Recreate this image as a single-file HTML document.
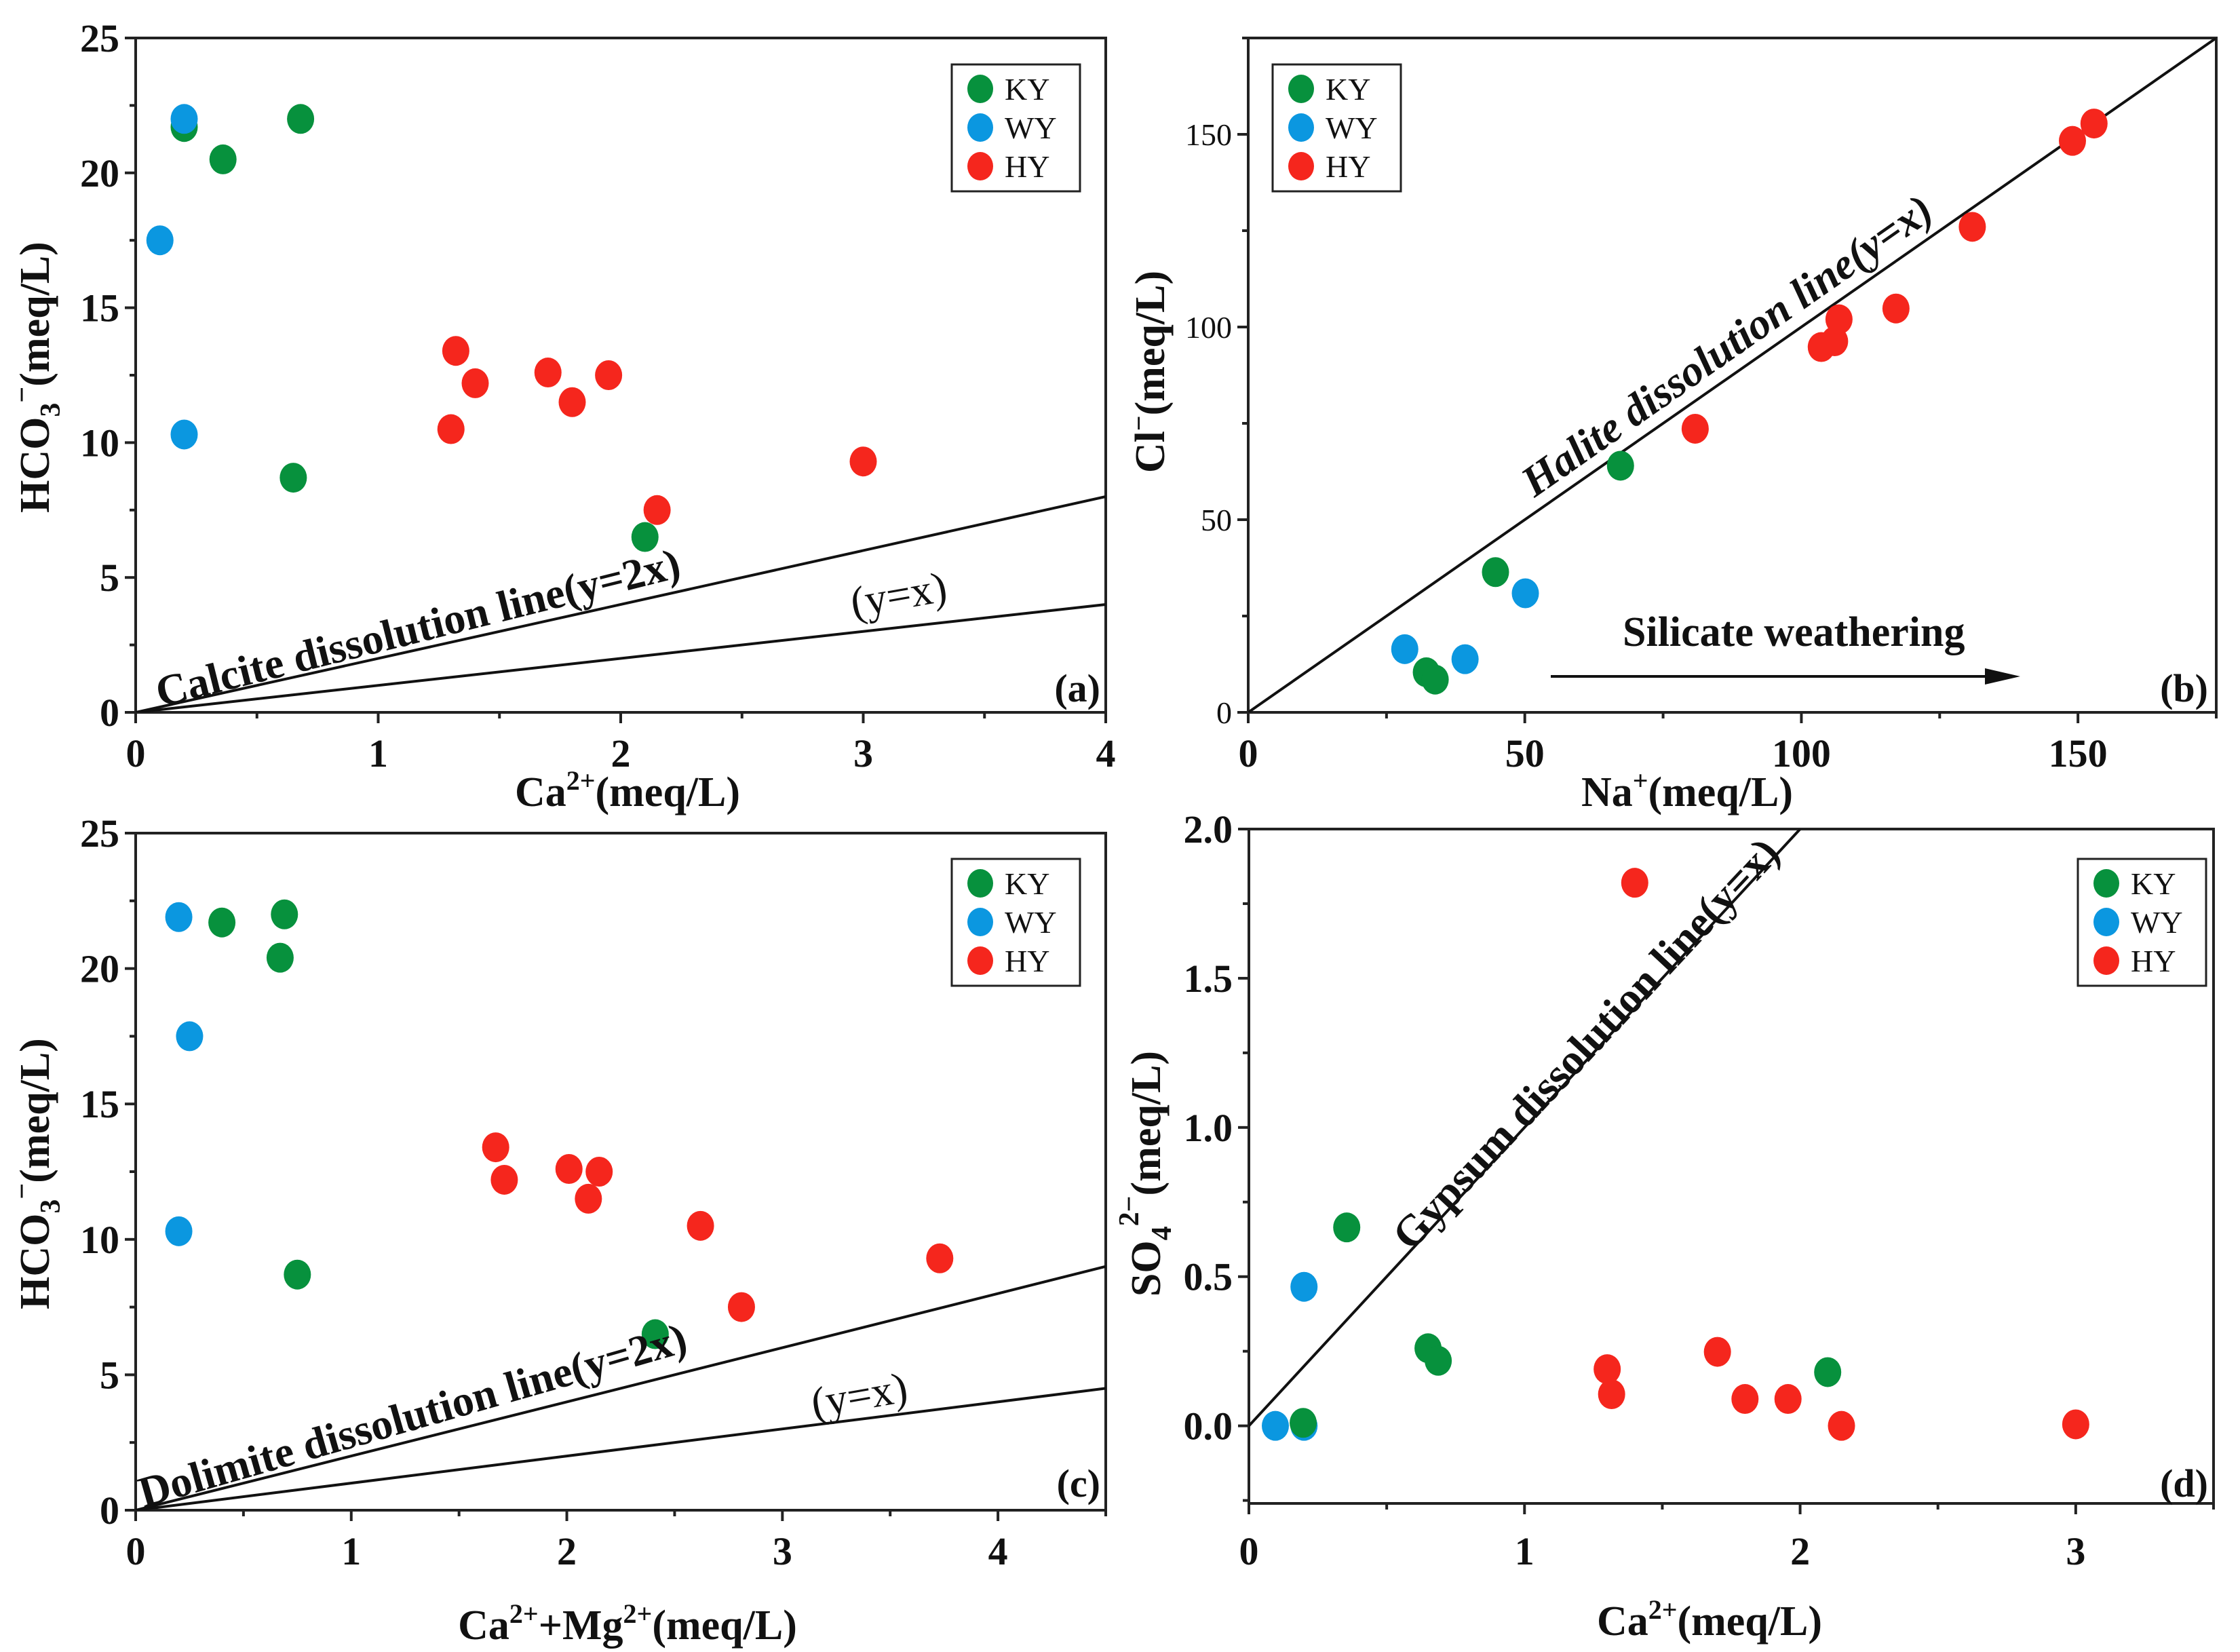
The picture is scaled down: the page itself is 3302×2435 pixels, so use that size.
<!DOCTYPE html>
<html><head><meta charset="utf-8">
<style>
html,body{margin:0;padding:0;background:#fff;}
svg{display:block;}
text{font-family:"Liberation Serif",serif;}
</style></head>
<body>
<svg id="chart" width="3302" height="2435" viewBox="0 0 3302 2435" xmlns="http://www.w3.org/2000/svg"></svg>
<script>
// Panel (a)
const aKYx=[0.2,0.36,0.68,0.65,2.1];
const aKYy=[21.7,20.5,22.0,8.7,6.5];
const aWYx=[0.2,0.1,0.2];
const aWYy=[22.0,17.5,10.3];
const aHYx=[1.32,1.4,1.3,1.7,1.8,1.95,2.15,3.0];
const aHYy=[13.4,12.2,10.5,12.6,11.5,12.5,7.5,9.3];
const aXTicks=[0,1,2,3,4];
const aYTicks=[0,5,10,15,20,25];
// Panel (b)
const bKYx=[67.3,44.7,32.2,33.8];
const bKYy=[64,36.4,10.4,8.5];
const bWYx=[28.3,39.2,50.1];
const bWYy=[16.4,13.8,30.9];
const bHYx=[80.8,103.6,106,106.8,117.1,130.9,149,152.9];
const bHYy=[73.6,94.8,96.3,102,104.8,126,148.3,152.8];
const bXTicks=[0,50,100,150];
const bYTicks=[0,50,100,150];
// Panel (c)
const cKYx=[0.4,0.69,0.67,0.75,2.41];
const cKYy=[21.7,22.0,20.4,8.7,6.5];
const cWYx=[0.2,0.25,0.2];
const cWYy=[21.9,17.5,10.3];
const cHYx=[1.67,1.71,2.01,2.15,2.1,2.62,2.81,3.73];
const cHYy=[13.4,12.2,12.6,12.5,11.5,10.5,7.5,9.3];
const cXTicks=[0,1,2,3,4];
const cYTicks=[0,5,10,15,20,25];
// Panel (d)
const dKYx=[0.355,0.65,0.687,0.197,2.1];
const dKYy=[0.665,0.26,0.218,0.01,0.18];
const dWYx=[0.2,0.096,0.2];
const dWYy=[0.466,0.0,0.0];
const dHYx=[1.4,1.3,1.316,1.7,1.8,1.956,2.15,3.0];
const dHYy=[1.82,0.19,0.106,0.248,0.09,0.09,0.0,0.005];
const dXTicks=[0,1,2,3];
const dYTicks=["0.0","0.5","1.0","1.5","2.0"];

const NS="http://www.w3.org/2000/svg";
const svg=document.getElementById('chart');
const COL={KY:'#07913d',WY:'#0b97e0',HY:'#f5261d'};

function mk(tag,attrs,parent){const e=document.createElementNS(NS,tag);for(const k in attrs)e.setAttribute(k,attrs[k]);(parent||svg).appendChild(e);return e;}

function panel(cfg){
  const g=mk('g',{});
  
  
  const X=v=>cfg.L+(v-cfg.x0)/(cfg.x1-cfg.x0)*(cfg.R-cfg.L);
  const Y=v=>cfg.B-(v-cfg.y0)/(cfg.y1-cfg.y0)*(cfg.B-cfg.T);
  const fr=mk('rect',{x:cfg.L,y:cfg.T,width:cfg.R-cfg.L,height:cfg.B-cfg.T,fill:'none',stroke:'#222','stroke-width':4},g);
  
  
  const clip='clip-'+cfg.id;
  const cp=mk('clipPath',{id:clip},g);mk('rect',{x:cfg.L,y:cfg.T,width:cfg.R-cfg.L,height:cfg.B-cfg.T},cp);
  cfg.lines.forEach(k=>{
    const xe=Math.min(cfg.x1,(cfg.y1)/k);
    const l=mk('line',{x1:X(0),y1:Y(0),x2:X(xe),y2:Y(k*xe),stroke:'#111','stroke-width':4,'clip-path':'url(#'+clip+')'},g);
    
    
  });
  const xs=cfg.xTicks;
  const xstep=xs[1]-xs[0];
  for(let v=cfg.x0;v<=cfg.x1+1e-9;v+=xstep/2){
    const major=xs.some(t=>Math.abs(t-v)<1e-9);
    mk('line',{x1:X(v),y1:cfg.B,x2:X(v),y2:cfg.B+(major?16:9),stroke:'#222','stroke-width':4},g);
  }
  xs.forEach(v=>{
    const t=mk('text',{x:X(v),y:cfg.xLabY,'text-anchor':'middle','font-size':58,'font-weight':'bold',fill:'#111'},g);
    t.textContent=v;
    
    
  });
  const ys=cfg.yTicks.map(Number);
  const ystep=ys[1]-ys[0];
  for(let v=ys[0]-(cfg.yMinorBelow?ystep/2:0);v<=cfg.y1+1e-9;v+=ystep/2){
    if(v<cfg.y0-1e-9)continue;
    const major=ys.some(t=>Math.abs(t-v)<1e-9);
    mk('line',{x1:cfg.L,y1:Y(v),x2:cfg.L-(major?16:9),y2:Y(v),stroke:'#222','stroke-width':4},g);
  }
  cfg.yTicks.forEach(v=>{
    const t=mk('text',{x:cfg.L-24,y:Y(Number(v))+(cfg.yBold?20:16),'text-anchor':'end','font-size':cfg.yBold?58:46,'font-weight':cfg.yBold?'bold':'normal',fill:'#111'},g);
    t.textContent=v;
    
    
  });
  const series=[['KY',cfg.ky],['WY',cfg.wy],['HY',cfg.hy]];
  cfg.order.forEach(i=>{
    const [nm,[xa,ya]]=series[i];
    xa.forEach((xv,j)=>{
      const c=mk('ellipse',{cx:X(xv),cy:Y(ya[j]),rx:20,ry:22,fill:COL[nm]},g);
      
      
    });
  });
  const lg=mk('g',{},g);
  
  
  mk('rect',{x:cfg.lgX,y:cfg.lgY,width:189,height:187,fill:'#fff',stroke:'#222','stroke-width':3},lg);
  ['KY','WY','HY'].forEach((nm,i)=>{
    const e=mk('g',{},lg);
    
    
    mk('ellipse',{cx:cfg.lgX+42,cy:cfg.lgY+36+i*57,rx:19,ry:21,fill:COL[nm]},e);
    const t=mk('text',{x:cfg.lgX+78,y:cfg.lgY+52+i*57,'font-size':46,fill:'#111'},e);
    t.textContent=nm;
  });
  return {g,X,Y};
}

function txt(parent,x,y,s,size,bold,rot,name,anchor){
  const t=mk('text',{x:x,y:y,'font-size':size,'font-weight':bold?'bold':'normal',fill:'#111','text-anchor':anchor||'start',transform:rot?`rotate(${rot} ${x} ${y})`:''},parent);
  t.innerHTML=s;
  
  
  return t;
}

// (a)
let p=panel({id:'a',L:200,R:1630,T:56,B:1050,x0:0,x1:4,y0:0,y1:25,xTicks:aXTicks,yTicks:aYTicks,yBold:true,xLabY:1130,
  lines:[2,1],ky:[aKYx,aKYy],wy:[aWYx,aWYy],hy:[aHYx,aHYy],order:[0,1,2],lgX:1403,lgY:95});
txt(p.g,72,556,'HCO<tspan dy="16" font-size="42">3</tspan><tspan dy="-42" font-size="42">−</tspan><tspan dy="26">(meq/L)</tspan>',62,true,-90,'y-axis-title','middle');
txt(p.g,925,1188,'Ca<tspan dy="-24" font-size="40">2+</tspan><tspan dy="24">(meq/L)</tspan>',62,true,0,'x-axis-title','middle');
txt(p.g,236,1042,'Calcite dissolution line(y=2x)',64,true,-14,'calcite-line-label');
txt(p.g,1258,910,'(y=x)',64,false,-10,'y-equals-x-label');
txt(p.g,1622,1034,'(a)',58,true,0,'panel-label-a','end');

// (b)
p=panel({id:'b',L:1840,R:3267,T:56,B:1050,x0:0,x1:175,y0:0,y1:175,xTicks:bXTicks,yTicks:bYTicks,yBold:false,xLabY:1130,
  lines:[1],ky:[bKYx,bKYy],wy:[bWYx,bWYy],hy:[bHYx,bHYy],order:[1,0,2],lgX:1876,lgY:95});
txt(p.g,1716,548,'Cl<tspan dy="-24" font-size="40">−</tspan><tspan dy="24">(meq/L)</tspan>',62,true,-90,'y-axis-title','middle');
txt(p.g,2487,1188,'Na<tspan dy="-24" font-size="40">+</tspan><tspan dy="24">(meq/L)</tspan>',62,true,0,'x-axis-title','middle');
txt(p.g,2262,734,'<tspan font-style="italic">Halite dissolution line(y=x)</tspan>',64,true,-35,'halite-line-label');
txt(p.g,2392,952,'Silicate weathering',62,true,0,'silicate-weathering-label');
const ar=mk('g',{},p.g);
mk('line',{x1:2286,y1:997,x2:2930,y2:997,stroke:'#111','stroke-width':4},ar);
mk('polygon',{points:'2978,997 2926,985 2926,1009',fill:'#111'},ar);
txt(p.g,3255,1034,'(b)',58,true,0,'panel-label-b','end');

// (c)
p=panel({id:'c',L:200,R:1630,T:1228,B:2226,x0:0,x1:4.5,y0:0,y1:25,xTicks:cXTicks,yTicks:cYTicks,yBold:true,xLabY:2306,
  lines:[2,1],ky:[cKYx,cKYy],wy:[cWYx,cWYy],hy:[cHYx,cHYy],order:[0,1,2],lgX:1403,lgY:1266});
txt(p.g,72,1730,'HCO<tspan dy="16" font-size="42">3</tspan><tspan dy="-42" font-size="42">−</tspan><tspan dy="26">(meq/L)</tspan>',62,true,-90,'y-axis-title','middle');
txt(p.g,925,2416,'Ca<tspan dy="-24" font-size="40">2+</tspan><tspan dy="24">+Mg</tspan><tspan dy="-24" font-size="40">2+</tspan><tspan dy="24">(meq/L)</tspan>',62,true,0,'x-axis-title','middle');
txt(p.g,212,2222,'Dolimite dissolution line(y=2x)',64,true,-16,'dolomite-line-label');
txt(p.g,1200,2090,'(y=x)',64,false,-10,'y-equals-x-label');
txt(p.g,1622,2206,'(c)',58,true,0,'panel-label-c','end');

// (d)
p=panel({id:'d',L:1841,R:3263,T:1222,B:2216,x0:0,x1:3.5,y0:-0.26,y1:2.0,xTicks:dXTicks,yTicks:dYTicks,yBold:true,xLabY:2306,yMinorBelow:true,
  lines:[1],ky:[dKYx,dKYy],wy:[dWYx,dWYy],hy:[dHYx,dHYy],order:[1,0,2],lgX:3063,lgY:1266});
txt(p.g,1710,1730,'SO<tspan dy="16" font-size="42">4</tspan><tspan dy="-48" font-size="42">2−</tspan><tspan dy="32">(meq/L)</tspan>',62,true,-90,'y-axis-title','middle');
txt(p.g,2520,2410,'Ca<tspan dy="-24" font-size="40">2+</tspan><tspan dy="24">(meq/L)</tspan>',62,true,0,'x-axis-title','middle');
txt(p.g,2080,1846,'Gypsum dissolution line(y=x)',64,true,-47,'gypsum-line-label');
txt(p.g,3255,2206,'(d)',58,true,0,'panel-label-d','end');
</script>
</body></html>
